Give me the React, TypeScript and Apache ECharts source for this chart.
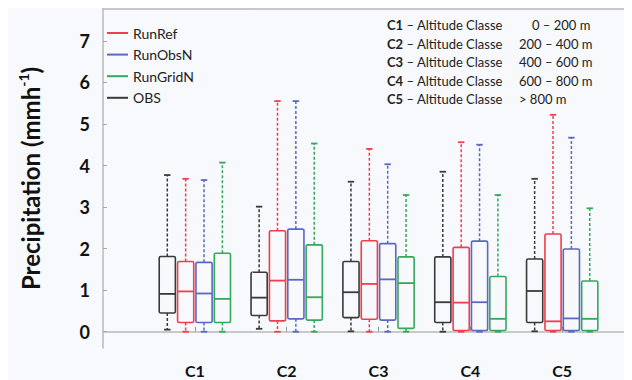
import { useEffect, useRef } from "react";
import * as echarts from "echarts";

// Altitude classes and their ranges
const classes = ["C1", "C2", "C3", "C4", "C5"];
const ranges = ["0 – 200 m", "200 – 400 m", "400 – 600 m", "600 – 800 m", "> 800 m"];

// Box statistics per class: [min, q1, median, q3, max] in mm h-1
const obs = [
  [0.05, 0.45, 0.91, 1.81, 3.77],
  [0.07, 0.39, 0.82, 1.43, 3.01],
  [0.01, 0.34, 0.95, 1.69, 3.61],
  [0.0, 0.22, 0.71, 1.8, 3.85],
  [0.01, 0.22, 0.98, 1.75, 3.68],
];
const runRef = [
  [0, 0.22, 0.97, 1.69, 3.68],
  [0, 0.26, 1.23, 2.43, 5.55],
  [0, 0.3, 1.15, 2.19, 4.4],
  [0, 0.03, 0.7, 2.03, 4.56],
  [0, 0.03, 0.25, 2.35, 5.22],
];
const runObsN = [
  [0, 0.22, 0.92, 1.67, 3.65],
  [0, 0.31, 1.25, 2.47, 5.55],
  [0, 0.28, 1.26, 2.12, 4.03],
  [0, 0.03, 0.71, 2.18, 4.5],
  [0, 0.03, 0.32, 1.99, 4.67],
];
const runGridN = [
  [0, 0.22, 0.79, 1.89, 4.07],
  [0, 0.28, 0.83, 2.09, 4.53],
  [0, 0.08, 1.17, 1.8, 3.29],
  [0, 0.03, 0.31, 1.33, 3.29],
  [0, 0.03, 0.31, 1.22, 2.97],
];

const yTicks = [0, 1, 2, 3, 4, 5, 6, 7];
const xTicks = [1, 2, 3, 4, 5];

const FONT = "Lato, 'Open Sans', sans-serif";
const AXIS_GREY = "#b8b8b8";

// One boxplot series drawn with whiskers, caps, box and median line
function boxSeries(name: string, color: string, rows: number[][], slot: number) {
  return {
    type: "custom",
    name,
    itemStyle: { color },
    data: rows.map((r, i) => [i + 1, ...r]),
    encode: { x: 0, y: [1, 2, 3, 4, 5] },
    renderItem: (_params: any, api: any) => {
      const xv = api.value(0) + slot * 0.2;
      const [cx, yMin] = api.coord([xv, api.value(1)]);
      const yQ1 = api.coord([xv, api.value(2)])[1];
      const yMed = api.coord([xv, api.value(3)])[1];
      const yQ3 = api.coord([xv, api.value(4)])[1];
      const yMax = api.coord([xv, api.value(5)])[1];
      const w = api.size([0.176, 0])[0];
      const cap = 3.2;
      const dash = { stroke: color, lineWidth: 1.5, lineDash: [3, 2], fill: "none" };
      const solid = { stroke: color, lineWidth: 1.8, fill: "none" };
      return {
        type: "group",
        children: [
          { type: "line", shape: { x1: cx, y1: yQ3, x2: cx, y2: yMax }, style: dash },
          { type: "line", shape: { x1: cx, y1: yQ1, x2: cx, y2: yMin }, style: dash },
          { type: "line", shape: { x1: cx - cap, y1: yMax, x2: cx + cap, y2: yMax }, style: solid },
          { type: "line", shape: { x1: cx - cap, y1: yMin, x2: cx + cap, y2: yMin }, style: solid },
          {
            type: "rect",
            shape: { x: cx - w / 2, y: yQ3, width: w, height: yQ1 - yQ3, r: 1.5 },
            style: { stroke: color, lineWidth: 1.6, fill: "none" },
          },
          { type: "line", shape: { x1: cx - w / 2, y1: yMed, x2: cx + w / 2, y2: yMed }, style: solid },
        ],
      };
    },
  };
}

export default function App() {
  const ref = useRef<HTMLDivElement>(null);

  useEffect(() => {
    if (!ref.current) return;
    const chart = echarts.init(ref.current, null, { renderer: "svg" });

    const annotation = classes.map((c, i) => ({
      type: "group",
      children: [
        {
          type: "text",
          x: 379,
          y: 17 + i * 18.6,
          style: {
            text: `{b|${c}} – Altitude Classe`,
            fontSize: 13,
            fontFamily: FONT,
            fill: "#222",
            verticalAlign: "middle",
            rich: { b: { fontWeight: "bold", fontSize: 13, fontFamily: FONT, fill: "#222" } },
          },
        },
        {
          type: "text",
          x: i === 0 ? 524 : 511,
          y: 17 + i * 18.6,
          style: {
            text: ranges[i],
            fontSize: 13,
            fontFamily: FONT,
            fill: "#222",
            verticalAlign: "middle",
          },
        },
      ],
    }));

    chart.setOption({
      animation: false,
      backgroundColor: "#f7f9fc",
      textStyle: { fontFamily: FONT },
      grid: { left: 85, right: 0, top: 1, bottom: 32 },
      legend: {
        orient: "vertical",
        left: 99,
        top: 17,
        padding: 0,
        icon: "rect",
        itemWidth: 21,
        itemHeight: 2,
        itemGap: 5.6,
        data: ["RunRef", "RunObsN", "RunGridN", "OBS"],
        textStyle: { fontSize: 14, color: "#222", fontFamily: FONT, lineHeight: 16 },
      },
      xAxis: [
        {
          type: "value",
          min: 0,
          max: 5.76,
          splitLine: { show: false },
          axisLine: { show: true, lineStyle: { color: AXIS_GREY, width: 1.5 } },
          axisTick: {
            show: true,
            inside: true,
            length: 5,
            customValues: xTicks,
            lineStyle: { color: "#999" },
          },
          axisLabel: {
            customValues: xTicks,
            formatter: (v: number) => classes[v - 1] ?? "",
            fontSize: 16,
            fontWeight: "bold",
            color: "#111",
            fontFamily: FONT,
            margin: 14,
          },
        },
        {
          type: "value",
          position: "top",
          min: 0,
          max: 5.76,
          splitLine: { show: false },
          axisLine: { show: true, lineStyle: { color: AXIS_GREY, width: 1.5 } },
          axisTick: { show: false },
          axisLabel: { show: false },
        },
      ],
      yAxis: {
        type: "value",
        min: -0.392,
        max: 7.767,
        splitLine: { show: false },
        axisLine: { show: true, lineStyle: { color: AXIS_GREY, width: 1.5 } },
        axisTick: {
          show: true,
          inside: true,
          length: 4,
          customValues: yTicks,
          lineStyle: { color: "#aaa" },
        },
        axisLabel: {
          customValues: yTicks,
          fontSize: 18,
          fontWeight: "bold",
          color: "#111",
          fontFamily: FONT,
          margin: 13,
        },
        name: "{a|Precipitation (mmh}{s|-1}{a|)}",
        nameLocation: "middle",
        nameRotate: 90,
        nameGap: 59,
        nameTextStyle: {
          rich: {
            a: { fontSize: 24, fontWeight: "bold", color: "#111", fontFamily: FONT, lineHeight: 28 },
            s: { fontSize: 14, fontWeight: "bold", color: "#111", fontFamily: FONT, verticalAlign: "top", lineHeight: 28 },
          },
        },
      },
      graphic: annotation,
      series: [
        boxSeries("OBS", "#3a3a3a", obs, -1.5),
        boxSeries("RunRef", "#ef3e4c", runRef, -0.5),
        boxSeries("RunObsN", "#5a68c2", runObsN, 0.5),
        boxSeries("RunGridN", "#35a85c", runGridN, 1.5),
      ],
    });

    return () => chart.dispose();
  }, []);

  return <div ref={ref} style={{ width: 624, height: 372 }} />;
}
